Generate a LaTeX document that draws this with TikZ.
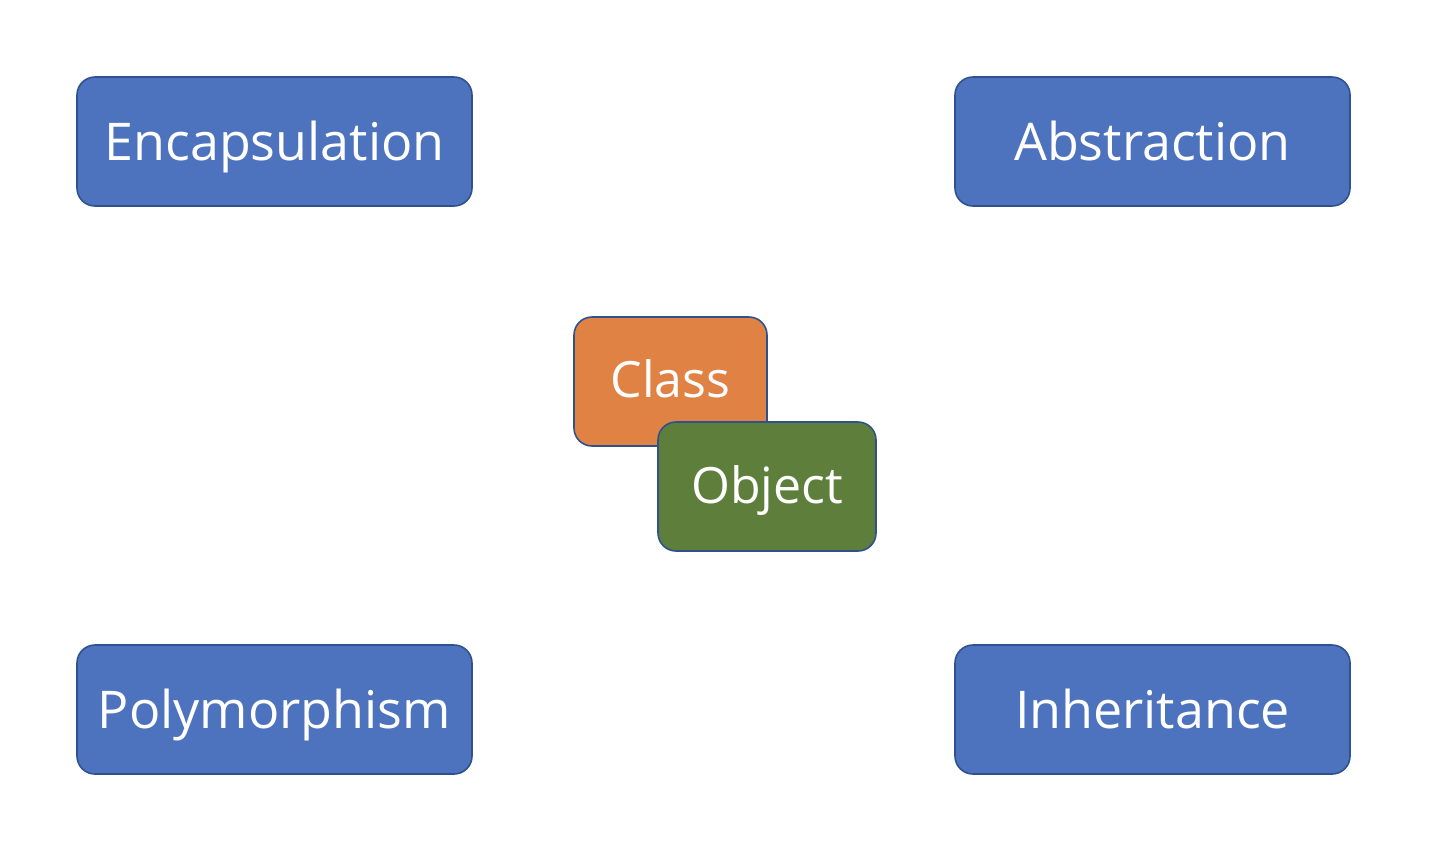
\documentclass[tikz,border=0pt]{standalone}
\usepackage{fontspec}
\setmainfont{Open Sans}
\definecolor{boxblue}{HTML}{4E73BE}
\definecolor{boxedge}{HTML}{2F528F}
\definecolor{boxorange}{HTML}{E08244}
\definecolor{boxgreen}{HTML}{5E7F3C}
\begin{document}
\begin{tikzpicture}[x=0.5pt,y=-0.5pt,
  card/.style={draw=boxedge,line width=0.8pt,rounded corners=9pt,text=white,inner sep=0pt,text depth=0pt},
  bluecard/.style={card,fill=boxblue,minimum width=197.5pt,minimum height=64.5pt,
    font=\fontsize{26}{30}\selectfont,text height=18.5pt},
  orangecard/.style={card,fill=boxorange,minimum width=96.5pt,minimum height=64.5pt,
    font=\fontsize{25}{30}\selectfont,text height=16pt},
  greencard/.style={card,fill=boxgreen,minimum width=109pt,minimum height=64.5pt,
    font=\fontsize{25}{30}\selectfont,text height=16.5pt}]
\useasboundingbox[fill=white] (0,0) rectangle (1454,848);
\node[bluecard] (enc) at (274.5,141.5) {Encapsulation};
\node[bluecard] (abs) at (1152.5,141.5) {Abstraction};
\node[bluecard] (poly) at (274.5,709.5) {Polymorphism};
\node[bluecard] (inh) at (1152.5,709.5) {Inheritance};
\node[orangecard] (cls) at (670.5,381.5) {Class};
\node[greencard] (obj) at (767,486.5) {Object};
\end{tikzpicture}
\end{document}
